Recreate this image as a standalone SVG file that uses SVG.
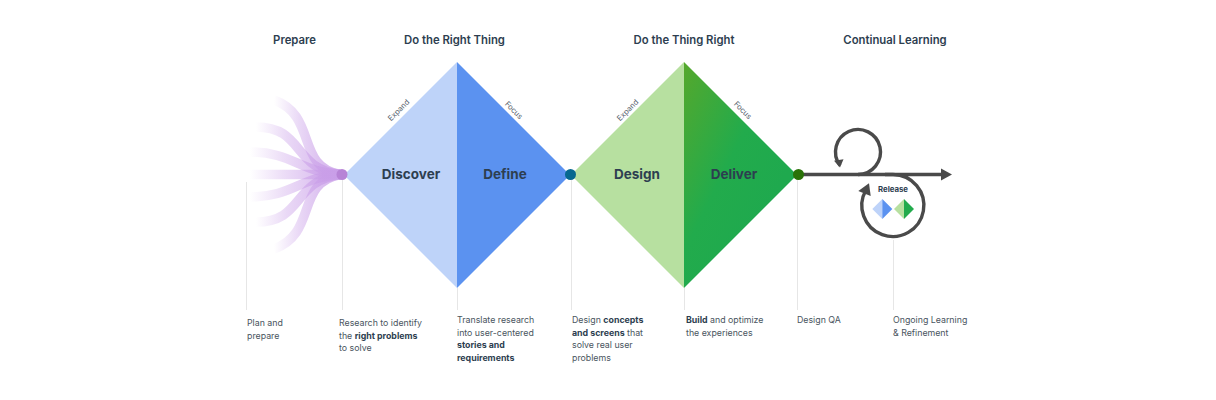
<svg xmlns="http://www.w3.org/2000/svg" width="1216" height="400" viewBox="0 0 1216 400">
<style>
text{font-family:Inter,"Liberation Sans",sans-serif;fill:#2d3e50}
.h{font-size:11.300px;font-weight:600;text-anchor:middle}
.n{font-size:13.500px;font-weight:700;text-anchor:middle}
.s{font-size:7.600px;fill:#55606c;text-anchor:middle}
.d{font-size:8.800px;fill:#4a5560}
.d tspan.b{font-weight:700;fill:#2d3e50}
.g{stroke:#e6e6e6;stroke-width:1;fill:none}
.f{fill:none;stroke-width:9.500;stroke-linecap:butt}
.a{fill:none;stroke:#4a4a4a;stroke-width:3.400}
.ah{fill:#4a4a4a}
</style>
<defs>
<linearGradient id="fan1" gradientUnits="userSpaceOnUse" x1="274" y1="0" x2="325" y2="0"><stop offset="0" stop-color="#c99ee8" stop-opacity="0"/><stop offset="0.5" stop-color="#c99ee8" stop-opacity="0.4"/><stop offset="1" stop-color="#c99ee8" stop-opacity="0.7"/></linearGradient>
<linearGradient id="fan2" gradientUnits="userSpaceOnUse" x1="256" y1="0" x2="325" y2="0"><stop offset="0" stop-color="#c99ee8" stop-opacity="0"/><stop offset="0.45" stop-color="#c99ee8" stop-opacity="0.4"/><stop offset="1" stop-color="#c99ee8" stop-opacity="0.7"/></linearGradient>
<linearGradient id="fan3" gradientUnits="userSpaceOnUse" x1="250" y1="0" x2="325" y2="0"><stop offset="0" stop-color="#c99ee8" stop-opacity="0"/><stop offset="0.45" stop-color="#c99ee8" stop-opacity="0.35"/><stop offset="1" stop-color="#c99ee8" stop-opacity="0.7"/></linearGradient>
<linearGradient id="del" x1="0" y1="0" x2="0.7" y2="0.7"><stop offset="0" stop-color="#55a82c"/><stop offset="0.6" stop-color="#22ab4c"/><stop offset="1" stop-color="#1fa94e"/></linearGradient>
</defs>
<g id="guides">
<path class="g" d="M246.500 182V310M342.500 175V310M457.500 288V310M571.500 175V310M684.500 288V310M797.500 175V310M893.500 240V310"/>
</g>
<g id="prepare">
<text class="h" x="294.500" y="44">Prepare</text>
<path class="f" stroke="url(#fan1)" d="M274 100C318 116 295 166 340 174.500"/>
<path class="f" stroke="url(#fan2)" d="M256 127C304 127 292 168 340 174.500"/>
<path class="f" stroke="url(#fan3)" d="M250 152C292 152 300 172 340 174.500"/>
<path class="f" stroke="url(#fan3)" d="M250 174.500H340"/>
<path class="f" stroke="url(#fan3)" d="M250 197C292 197 300 177 340 174.500"/>
<path class="f" stroke="url(#fan2)" d="M256 222C304 222 292 181 340 174.500"/>
<path class="f" stroke="url(#fan1)" d="M274 249C318 233 295 183 340 174.500"/>
<text class="d" x="247" y="326">Plan and</text>
<text class="d" x="247" y="339">prepare</text>
</g>
<g id="discover">
<text class="h" x="454.500" y="44">Do the Right Thing</text>
<path d="M344 175L457 62V288Z" fill="#bed3f9"/>
<text class="n" x="411" y="179">Discover</text>
<text class="s" transform="translate(400.500 112) rotate(-45)">Expand</text>
<text class="d" x="339" y="326">Research to identify</text>
<text class="d" x="339" y="339">the <tspan class="b">right problems</tspan></text>
<text class="d" x="339" y="351">to solve</text>
</g>
<g id="define">
<path d="M457 62L570 175L457 288Z" fill="#5b92f0"/>
<text class="n" x="505" y="179">Define</text>
<text class="s" transform="translate(512 112) rotate(45)">Focus</text>
<text class="d" x="457" y="323">Translate research</text>
<text class="d" x="457" y="336">into user-centered</text>
<text class="d" x="457" y="348"><tspan class="b">stories and</tspan></text>
<text class="d" x="457" y="361"><tspan class="b">requirements</tspan></text>
</g>
<g id="design">
<text class="h" x="684" y="44">Do the Thing Right</text>
<path d="M571 175L684 62V288Z" fill="#b7e0a0"/>
<text class="n" x="637" y="179">Design</text>
<text class="s" transform="translate(629.500 112) rotate(-45)">Expand</text>
<text class="d" x="572" y="323">Design <tspan class="b">concepts</tspan></text>
<text class="d" x="572" y="336"><tspan class="b">and screens</tspan> that</text>
<text class="d" x="572" y="348">solve real user</text>
<text class="d" x="572" y="361">problems</text>
</g>
<g id="deliver">
<path d="M684 62L797 175L684 288Z" fill="url(#del)"/>
<text class="n" x="734" y="179">Deliver</text>
<text class="s" transform="translate(741 112) rotate(45)">Focus</text>
<text class="d" x="686" y="323"><tspan class="b">Build</tspan> and optimize</text>
<text class="d" x="686" y="336">the experiences</text>
<text class="d" x="797" y="323">Design QA</text>
</g>
<g id="connectors">
<path class="a" d="M803 174.500H943"/>
<path class="ah" d="M941 168.500L952 174.500L941 180.500Z"/>
<path class="a" d="M858 174.500A22.500 22.500 0 1 0 840 165.500"/>
<path class="ah" d="M834 160.700L843.500 159.300L840 167.500Z"/>
<path class="a" d="M885 174.500H893A31 31 0 1 1 866 190"/>
<path class="ah" d="M858.300 191L869 183.300L870.700 196Z"/>
</g>
<g id="nodes-dots">
<circle cx="342" cy="174.500" r="5.500" fill="#b783d6"/>
<circle cx="570.500" cy="174.500" r="5.500" fill="#06688f"/>
<circle cx="798.500" cy="174.500" r="5.500" fill="#2a7208"/>
</g>
<g id="learning">
<text class="h" x="895" y="44">Continual Learning</text>
<text x="893" y="192" font-size="7.800" font-weight="700" text-anchor="middle">Release</text>
<path d="M882.300 199L872.300 209L882.300 219Z" fill="#bed3f9"/>
<path d="M882.300 199L892.300 209L882.300 219Z" fill="#5b92f0"/>
<path d="M904 199L894 209L904 219Z" fill="#b7e0a0"/>
<path d="M904 199L914 209L904 219Z" fill="#22ab4c"/>
<text class="d" x="893" y="323">Ongoing Learning</text>
<text class="d" x="893" y="336">&amp; Refinement</text>
</g>
</svg>
